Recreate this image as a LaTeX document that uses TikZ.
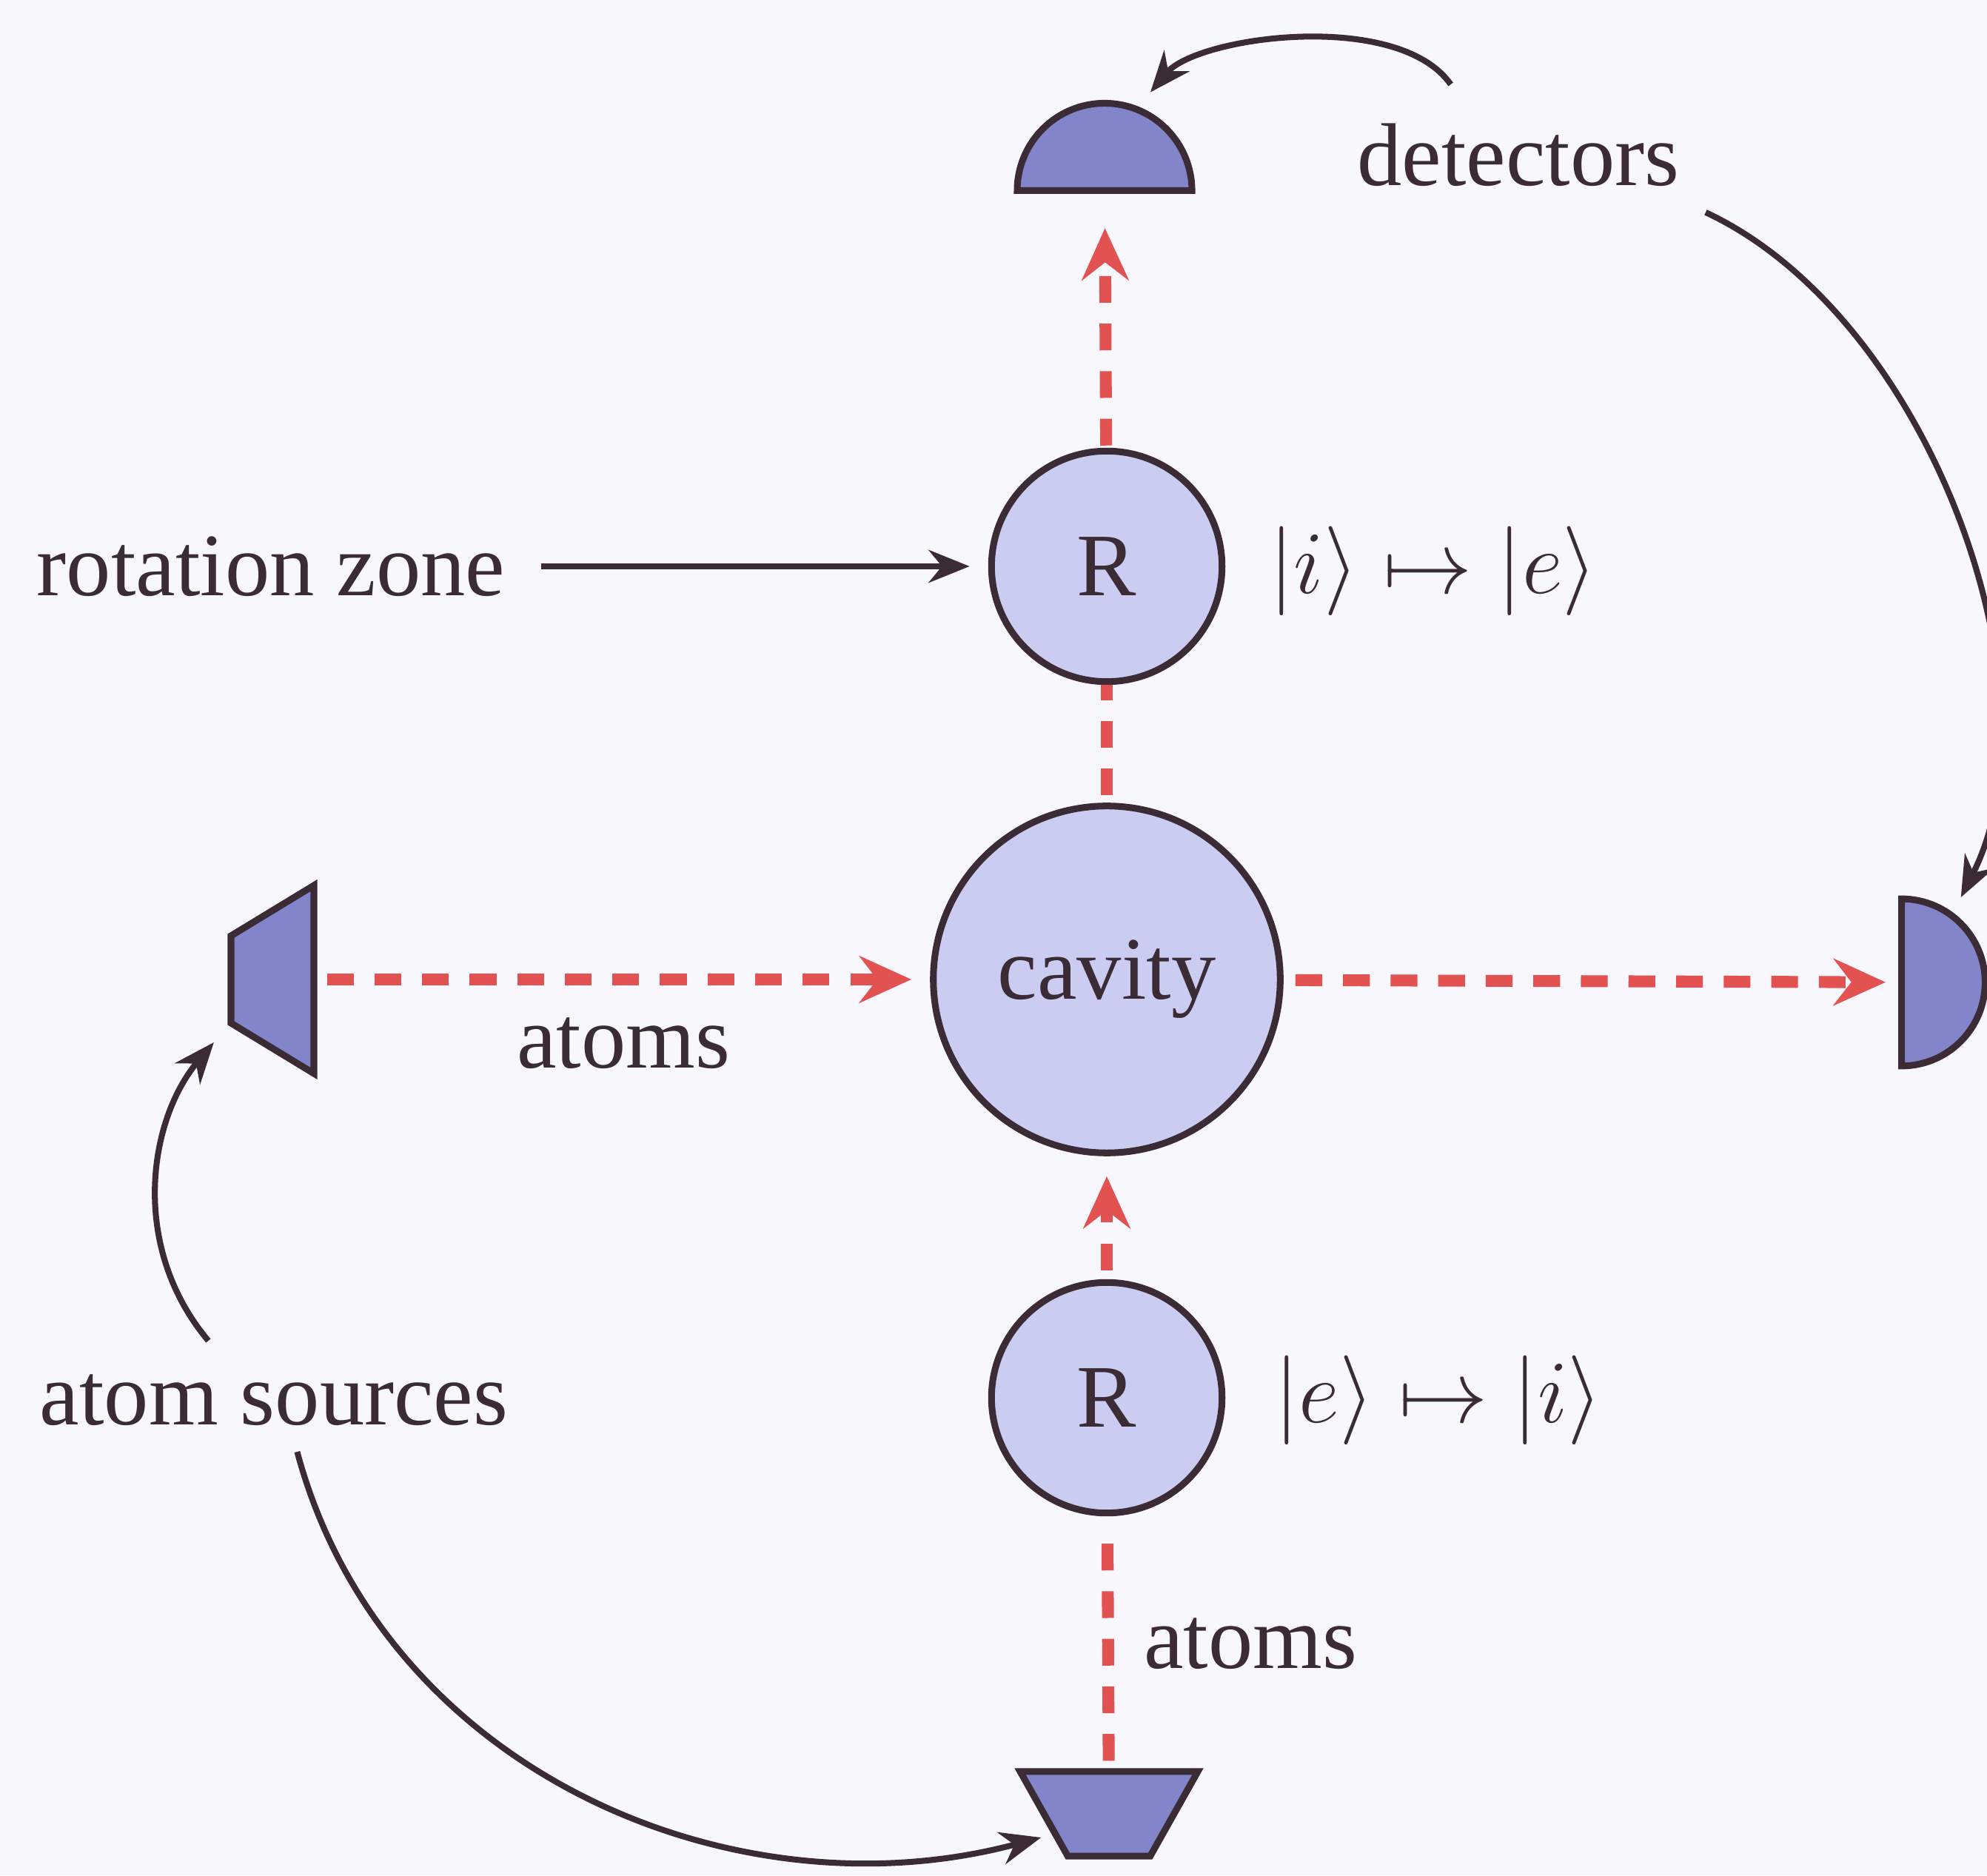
\documentclass[tikz,border=0pt]{standalone}
\usepackage{fontspec}
\setmainfont{Liberation Serif}
\usetikzlibrary{arrows.meta,positioning,shapes.geometric}
\definecolor{Ink}{HTML}{3B2B35}
\definecolor{Beam}{HTML}{E25250}
\definecolor{Zone}{HTML}{CACCF2}
\definecolor{Device}{HTML}{8285C9}
\definecolor{Paper}{HTML}{F7F7FD}
\tikzset{
 zone/.style={circle, draw=Ink, line width=0.9pt, fill=Zone, inner sep=0pt},
 source/.style={trapezium, trapezium angle=60, trapezium stretches=true, draw=Ink, line width=0.9pt, fill=Device, inner sep=1pt},
 detector/.style={semicircle, draw=Ink, line width=0.9pt, fill=Device, inner sep=1pt},
 beam/.style={draw=Beam, line width=1.6pt, dash pattern=on 3.6pt off 2.8pt},
 beamarrow/.style={beam, -{Stealth[length=7pt,width=6.3pt,inset=2.4pt]}},
 pointer/.style={draw=Ink, line width=0.8pt, -{Stealth[length=5.5pt,width=4.4pt]}}
}
\begin{document}
\begin{tikzpicture}[x=0.35cm,y=0.35cm,font=\fontsize{12pt}{14pt}\selectfont,text=Ink]
\fill[Paper] (0,0) rectangle (26.84,25.33);
\useasboundingbox (0,0) rectangle (26.84,25.33);

\node[zone, minimum size=1.64cm] (cavity) at (14.95,12.10) {cavity};
\node[zone, minimum size=1.09cm] (rtop) at (14.95,17.68) {R};
\node[zone, minimum size=1.09cm] (rbot) at (14.95,6.45) {R};
\node[detector, minimum width=0.826cm, anchor=chord center] (dettop) at (14.92,22.71) {};
\node[detector, minimum width=0.79cm, shape border rotate=270, anchor=chord center] (detright) at (25.64,12.06) {};
\node[source, shape border rotate=90, minimum width=0.889cm, minimum height=0.392cm] (srcleft) at (3.68,12.10) {};
\node[source, shape border rotate=180, minimum width=0.84cm, minimum height=0.40cm] (srcbot) at (14.98,0.83) {};

\node (lblzone) at (3.66,17.68) {rotation zone};
\node (lbldet) at (20.51,23.24) {detectors};
\node (lblsrc) at (3.70,6.42) {atom sources};
\node (atomsleft) at (8.42,11.24) {atoms};
\node (atomsbot) at (16.89,3.13) {atoms};
\node (kettop) at (19.36,17.62) {$|i\rangle \mapsto |e\rangle$};
\node (ketbot) at (19.43,6.42) {$|e\rangle \mapsto |i\rangle$};

\draw[beamarrow, shorten <=1.3pt, shorten >=2.5pt] (srcleft) -- (cavity);
\draw[beamarrow, shorten <=1.6pt, shorten >=1.7pt] (cavity) -- (detright);
\draw[beam, shorten <=1pt, shorten >=3.3pt] (srcbot) -- (rbot);
\draw[beamarrow, shorten <=1.2pt, shorten >=2.7pt] (rbot) -- (cavity);
\draw[beam, shorten <=1pt] (cavity) -- (rtop);
\draw[beamarrow, shorten <=0.3pt, shorten >=4.6pt] (rtop) -- (dettop);

\draw[pointer, shorten <=1.3pt, shorten >=2.5pt] (lblzone) -- (rtop);
\draw[pointer, shorten >=2.5pt] ([xshift=-0.32cm,yshift=0.06cm]lbldet.north) to[out=125,in=50,looseness=0.75] (dettop.55);
\draw[pointer, shorten >=2.3pt] (lbldet.south east) to[out=-25,in=63,looseness=0.85] (detright.76);
\draw[pointer, shorten >=3pt] ([xshift=-0.31cm,yshift=0.035cm]lblsrc.north) to[out=130,in=230] (srcleft.226);
\draw[pointer, shorten >=1.5pt] ([xshift=0.11cm]lblsrc.south) to[out=-75,in=195] (srcbot.200);
\end{tikzpicture}
\end{document}
